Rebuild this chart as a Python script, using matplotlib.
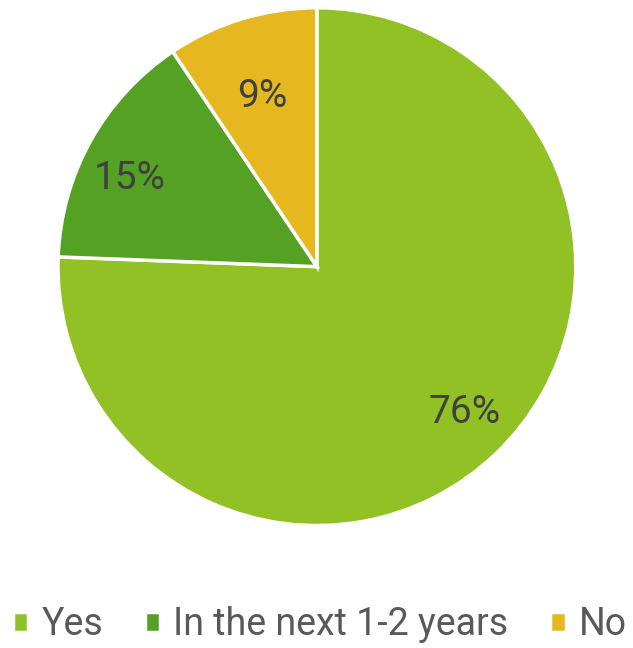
import numpy as np
import matplotlib.pyplot as plt

labels = ["Yes", "In the next 1-2 years", "No"]
values = [75.6, 15.0, 9.4]
colors = ["#92C125", "#55A123", "#E6B820"]

# label placement tweaks (radius fraction, angle offset in degrees)
label_dist = [0.80, 0.80, 0.69]
label_shift = [1.5, 4.0, 1.0]

plt.rcParams['font.family'] = ['Roboto', 'DejaVu Sans']

fig = plt.figure(figsize=(6.33, 6.48), dpi=100)
ax = fig.add_axes([0.0916, 0.189, 0.818, 0.799])

wedges, texts, autotexts = ax.pie(
    values, colors=colors, startangle=90, counterclock=False,
    autopct='%1.0f%%', pctdistance=0.78, radius=1,
    wedgeprops=dict(edgecolor='white', linewidth=2.5),
    textprops=dict(color='#404040', fontsize=28))

for w, t, d, s in zip(wedges, autotexts, label_dist, label_shift):
    ang = np.deg2rad((w.theta1 + w.theta2) / 2 + s)
    t.set_position((d * np.cos(ang), d * np.sin(ang)))

ax.set_xlim(-1, 1)
ax.set_ylim(-1, 1)
ax.set_aspect('equal')
ax.axis('off')

fig.legend(wedges, labels, loc='lower center', bbox_to_anchor=(0.505, -0.045),
           ncol=3, frameon=False, fontsize=27, handlelength=0.42, handleheight=0.42,
           handletextpad=0.35, columnspacing=1.1, labelcolor='#595959')

fig.savefig('out.png', dpi=100)
